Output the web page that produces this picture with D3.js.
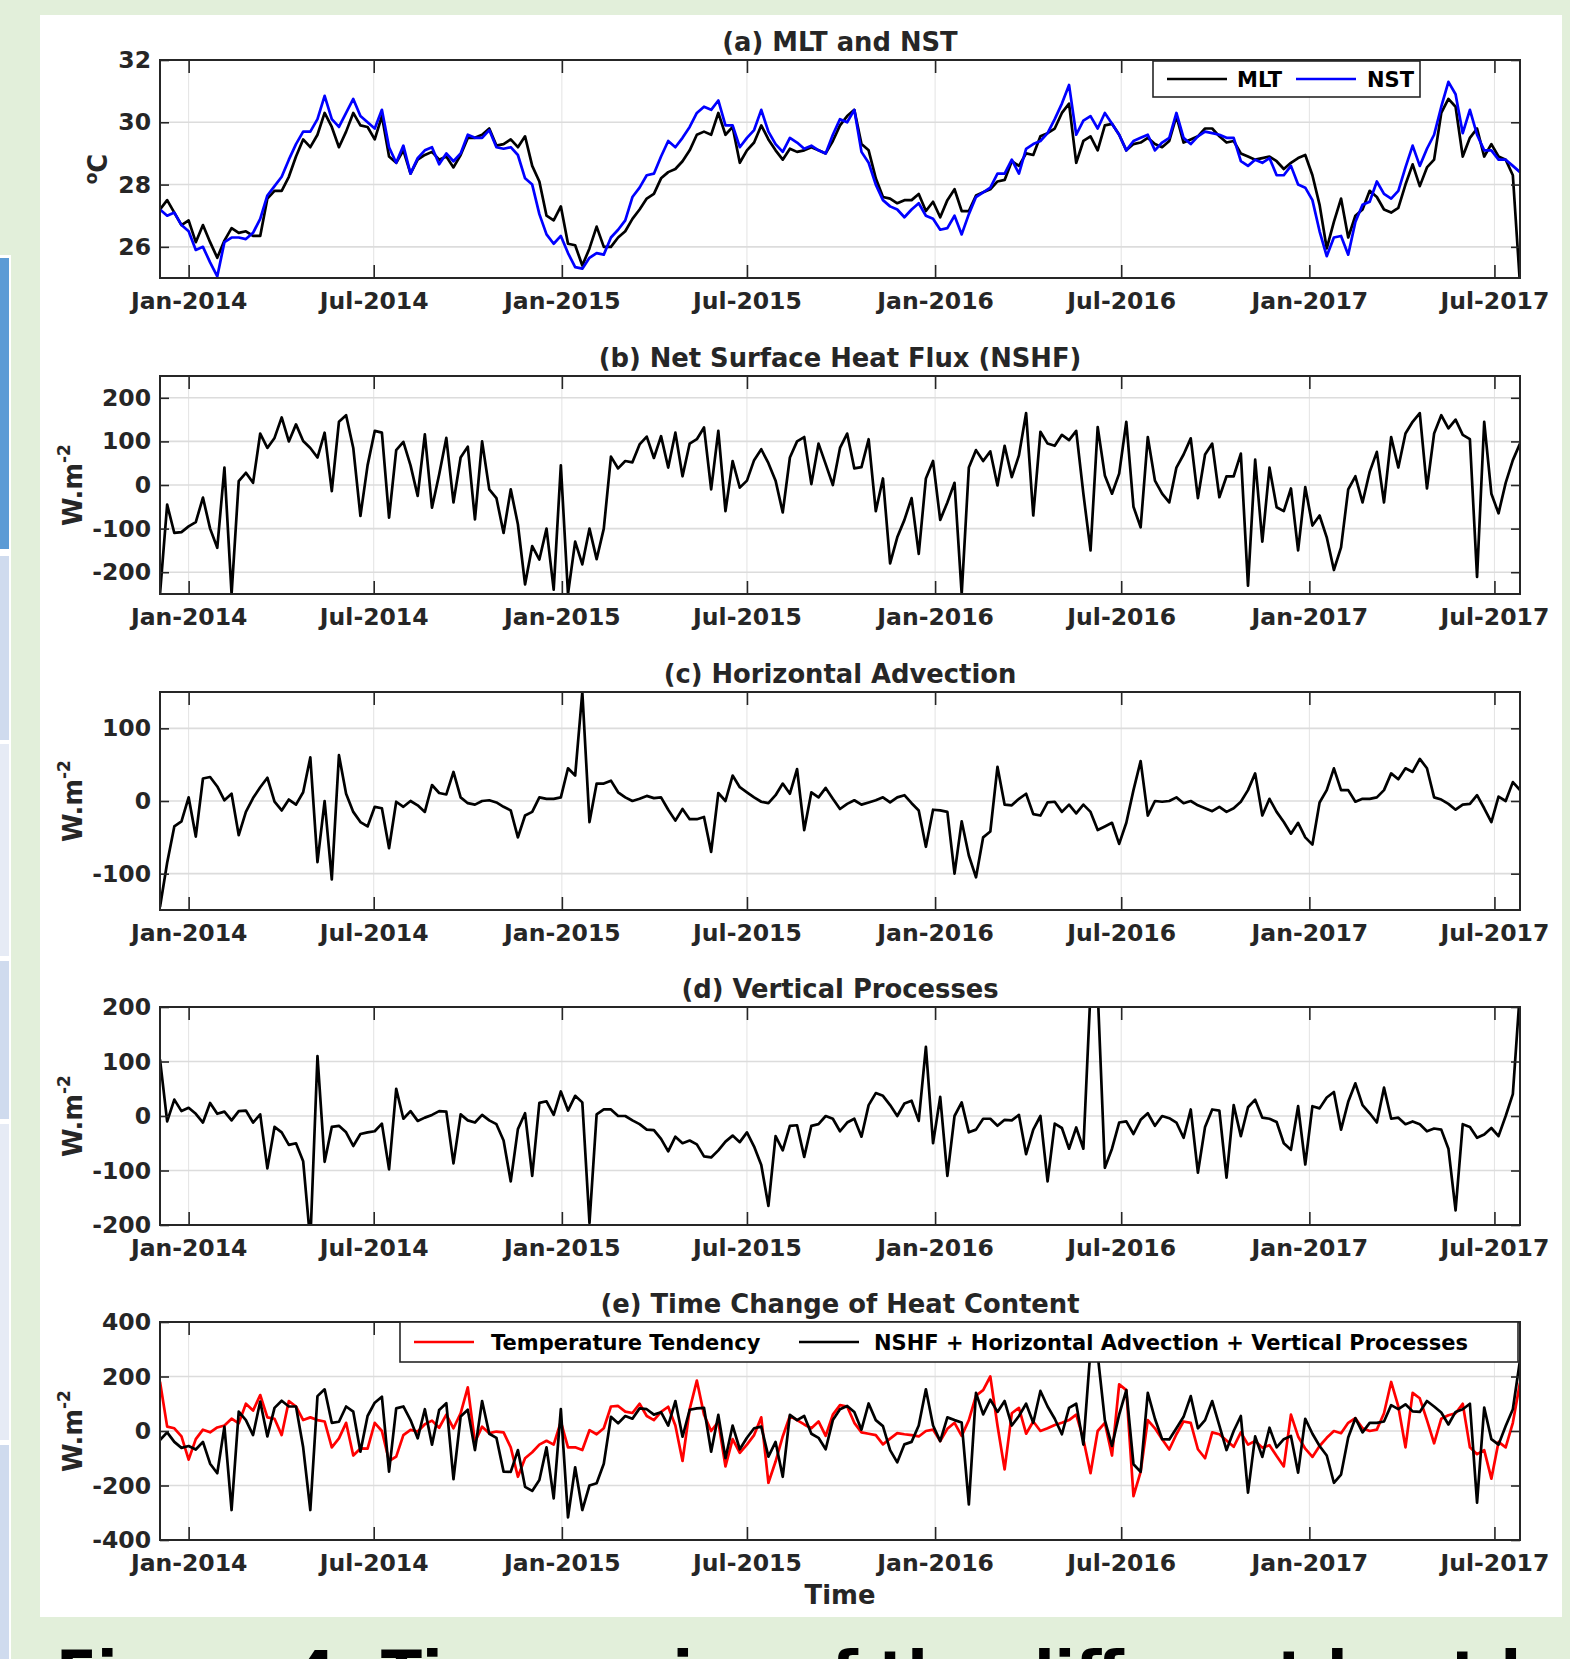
<!DOCTYPE html>
<html lang="en">
<head>
<meta charset="UTF-8">
<title>Heat budget time series</title>
<script src="https://cdn.jsdelivr.net/npm/d3@7"></script>
<style>
  body { margin: 0; background: #e2efda; }
  svg { display: block; }
  text { font-family: "DejaVu Sans", sans-serif; font-weight: bold; fill: #262626; }
</style>
</head>
<body>
<svg id="chart" width="1570" height="1659"></svg>
<script>
// weekly samples, first one on 4 Dec 2013
const startDate = new Date(2013, 11, 4);
const stepDays = 7;

const mlt = [
  27.2, 27.5, 27.1, 26.7, 26.85, 26.15, 26.7, 26.15, 25.65, 26.2,
  26.6, 26.45, 26.5, 26.35, 26.35, 27.55, 27.8, 27.8, 28.25, 28.9,
  29.45, 29.2, 29.6, 30.3, 29.85, 29.2, 29.7, 30.3, 29.9, 29.85,
  29.45, 30.2, 28.9, 28.7, 29.1, 28.35, 28.8, 28.95, 29.05, 28.8,
  28.9, 28.55, 28.95, 29.5, 29.5, 29.6, 29.8, 29.25, 29.3, 29.45,
  29.2, 29.55, 28.6, 28.1, 27.0, 26.85, 27.3, 26.1, 26.05, 25.4,
  25.95, 26.65, 26.0, 26.0, 26.3, 26.5, 26.9, 27.2, 27.55, 27.7,
  28.2, 28.4, 28.5, 28.75, 29.1, 29.6, 29.7, 29.6, 30.3, 29.6,
  29.85, 28.7, 29.1, 29.35, 29.9, 29.45, 29.1, 28.8, 29.15, 29.05,
  29.1, 29.2, 29.1, 29.0, 29.4, 29.9, 30.2, 30.4, 29.3, 29.1,
  28.2, 27.6, 27.55, 27.4, 27.5, 27.5, 27.7, 27.15, 27.45, 26.95,
  27.5, 27.85, 27.15, 27.15, 27.65, 27.75, 27.85, 28.1, 28.15, 28.75,
  28.6, 29.0, 28.95, 29.55, 29.65, 29.8, 30.3, 30.6, 28.7, 29.4,
  29.55, 29.1, 29.9, 29.95, 29.6, 29.1, 29.3, 29.35, 29.5, 29.3,
  29.2, 29.4, 30.2, 29.35, 29.45, 29.55, 29.8, 29.8, 29.55, 29.35,
  29.4, 29.0, 28.9, 28.8, 28.85, 28.9, 28.75, 28.5, 28.7, 28.85,
  28.95, 28.3, 27.35, 25.95, 26.8, 27.55, 26.3, 27.0, 27.2, 27.8,
  27.6, 27.2, 27.1, 27.25, 28.0, 28.65, 27.95, 28.55, 28.8, 30.3,
  30.75, 30.5, 28.9, 29.5, 29.8, 28.9, 29.3, 28.9, 28.8, 28.3,
  24.8
];

const nst = [
  27.2, 27.0, 27.1, 26.7, 26.5, 25.9, 26.0, 25.5, 25.05, 26.15,
  26.3, 26.3, 26.25, 26.45, 26.9, 27.65, 27.95, 28.25, 28.8, 29.3,
  29.7, 29.7, 30.1, 30.85, 30.1, 29.85, 30.3, 30.75, 30.2, 30.0,
  29.8, 30.4, 29.2, 28.7, 29.25, 28.35, 28.85, 29.1, 29.2, 28.65,
  29.0, 28.75, 29.0, 29.6, 29.5, 29.5, 29.75, 29.2, 29.15, 29.2,
  28.95, 28.2, 28.0, 27.05, 26.4, 26.1, 26.35, 25.8, 25.35, 25.3,
  25.65, 25.8, 25.75, 26.3, 26.55, 26.85, 27.6, 27.9, 28.3, 28.35,
  28.9, 29.4, 29.2, 29.5, 29.85, 30.3, 30.5, 30.4, 30.7, 29.9,
  29.9, 29.2, 29.5, 29.75, 30.4, 29.7, 29.3, 29.05, 29.5, 29.35,
  29.15, 29.25, 29.1, 29.0, 29.6, 30.1, 30.0, 30.4, 29.05, 28.7,
  28.0, 27.5, 27.3, 27.2, 26.95, 27.2, 27.4, 27.0, 26.9, 26.55,
  26.6, 27.0, 26.4, 27.05, 27.6, 27.75, 27.9, 28.35, 28.35, 28.8,
  28.35, 29.15, 29.3, 29.4, 29.65, 30.1, 30.6, 31.2, 29.6, 30.05,
  30.2, 29.8, 30.3, 29.95, 29.6, 29.1, 29.4, 29.5, 29.6, 29.1,
  29.35, 29.5, 30.3, 29.5, 29.3, 29.55, 29.7, 29.65, 29.6, 29.5,
  29.5, 28.75, 28.6, 28.8, 28.7, 28.85, 28.3, 28.3, 28.6, 28.0,
  27.9, 27.5, 26.5, 25.7, 26.3, 26.35, 25.75, 26.8, 27.35, 27.45,
  28.1, 27.7, 27.55, 27.8, 28.55, 29.25, 28.6, 29.15, 29.6, 30.5,
  31.3, 30.9, 29.65, 30.4, 29.6, 29.1, 29.1, 28.8, 28.8, 28.6,
  28.4
];

const nshf = [
  -250, -45, -110, -108, -95, -85, -29, -100, -144, 40,
  -250, 9, 28, 5, 118, 85, 108, 155, 100, 139,
  101, 85, 63, 120, -14, 145, 160, 85, -71, 45,
  124, 120, -75, 80, 99, 45, -25, 116, -52, 24,
  108, -40, 63, 88, -79, 100, -10, -30, -110, -10,
  -90, -228, -140, -171, -100, -240, 45, -250, -130, -182,
  -100, -170, -100, 65, 38, 55, 52, 93, 111, 62,
  112, 40, 120, 20, 95, 105, 132, -10, 124, -60,
  55, -6, 10, 57, 82, 50, 10, -63, 63, 100,
  110, 2, 95, 48, 0, 85, 118, 38, 41, 105,
  -60, 15, -180, -120, -80, -30, -158, 15, 55, -80,
  -40, 5, -250, 40, 80, 55, 77, -1, 90, 18,
  68, 165, -70, 122, 95, 90, 115, 103, 124, -20,
  -150, 133, 22, -20, 26, 145, -50, -97, 110, 10,
  -20, -40, 40, 70, 107, -30, 70, 95, -28, 20,
  20, 72, -231, 58, -130, 40, -51, -60, -8, -150,
  -5, -93, -70, -120, -195, -143, -10, 20, -40, 30,
  76, -40, 110, 40, 118, 145, 165, -8, 118, 160,
  130, 150, 115, 105, -211, 145, -20, -65, 5, 57,
  95
];

const horizAdvection = [
  -146, -85, -35, -28, 5, -49, 31, 33, 20, 1,
  10, -47, -15, 4, 19, 32, -1, -13, 2, -5,
  12, 60, -84, 0, -108, 63, 10, -15, -29, -35,
  -8, -10, -65, -1, -8, 0, -6, -15, 22, 11,
  9, 40, 5, -3, -5, 0, 1, -2, -8, -13,
  -50, -20, -15, 5, 3, 3, 5, 45, 35, 150,
  -29, 24, 24, 28, 12, 5, 0, 3, 7, 4,
  5, -12, -27, -11, -25, -25, -22, -70, 11, 0,
  35, 19, 12, 5, -1, -3, 8, 24, 10, 44,
  -40, 12, 5, 18, 3, -11, -4, 1, -5, -2,
  1, 5, -2, 5, 8, -3, -13, -63, -12, -13,
  -15, -100, -28, -75, -105, -50, -42, 47, -5, -6,
  3, 10, -18, -20, -2, -1, -15, -5, -17, -5,
  -15, -40, -35, -30, -59, -30, 15, 55, -20, 0,
  -1, 0, 5, -3, 0, -6, -10, -14, -8, -15,
  -10, -1, 15, 38, -20, 3, -15, -29, -45, -30,
  -50, -60, -2, 15, 45, 15, 15, -1, 3, 3,
  5, 15, 38, 30, 45, 40, 58, 45, 5, 2,
  -4, -12, -5, -4, 8, -10, -29, 6, 0, 26,
  15
];

const vertProcesses = [
  104, -10, 30, 9, 15, 4, -12, 24, 4, 8,
  -8, 9, 10, -12, 3, -96, -20, -30, -53, -50,
  -83, -230, 110, -84, -20, -18, -30, -55, -33, -30,
  -28, -14, -98, 50, -5, 9, -9, -3, 2, 9,
  8, -87, 3, -8, -12, 2, -8, -15, -45, -120,
  -24, 5, -110, 24, 27, 2, 45, 10, 37, 25,
  -196, 3, 12, 12, 0, 0, -8, -15, -25, -26,
  -42, -65, -38, -50, -45, -52, -74, -76, -63, -47,
  -36, -48, -30, -56, -90, -165, -37, -63, -18, -17,
  -75, -18, -15, 0, -5, -28, -12, -5, -38, 20,
  42, 37, 20, 0, 23, 28, -9, 127, -50, 35,
  -110, 0, 25, -30, -25, -5, -5, -18, -7, -8,
  2, -70, -25, 0, -120, -14, -22, -60, -21, -60,
  230, 230, -95, -60, -12, -10, -33, -7, 5, -18,
  0, -4, -12, -40, 12, -104, -20, 12, 10, -113,
  20, -37, 16, 30, -3, -5, -11, -50, -62, 18,
  -89, 18, 14, 34, 44, -25, 26, 60, 20, 5,
  -12, 52, -5, -3, -15, -10, -15, -28, -23, -25,
  -60, -173, -15, -20, -40, -34, -22, -37, 0, 40,
  230
];

const tempTendency = [
  181, 16, 10, -20, -105, -30, 5, -5, 13, 20,
  45, 28, 100, 75, 132, 50, 45, -15, 110, 90,
  40, 50, 40, 35, -60, -27, 30, -90, -64, -65,
  30, 0, -110, -94, -15, 4, -2, 25, 38, 12,
  60, 10, 65, 160, -40, 16, -8, -2, -5, -60,
  -168, -100, -78, -50, -36, -50, 34, -60, -60, -70,
  3, -12, 10, 90, 92, 71, 66, 100, 55, 40,
  70, 89, 20, -110, 80, 185, 60, 0, 34, -130,
  -30, -80, -50, -15, 50, -190, -112, -20, 55, 40,
  24, 10, 35, -18, 60, 95, 90, 30, -5, -10,
  -15, -49, -28, -8, -12, -15, -20, 0, 5, -37,
  8, 30, -18, 40, 130, 150, 200, 20, -141, 65,
  85, -10, 35, 0, 10, 22, 30, 40, 60, -30,
  -155, 0, 30, -90, 171, 150, -239, -150, 40, 10,
  -30, -68, -12, 35, 30, -67, -100, -5, -12, -35,
  -58, -5, -50, -37, -61, -52, -92, -130, 60, -20,
  -65, -95, -55, -25, 0, -8, 30, 47, 10, 0,
  5, 65, 180, 90, -60, 140, 120, 40, -45, 45,
  58, 65, 100, -60, -85, -70, -175, -40, -60, 30,
  177
];

const budgetSum = [
  -33, -5, -40, -62, -55, -68, -40, -120, -155, 16,
  -290, 71, 40, -15, 108, -20, 85, 111, 90, 90,
  -60, -290, 128, 153, 30, 34, 90, 71, -76, 55,
  104, 126, -149, 83, 90, 40, -27, 80, -50, 77,
  102, -177, 53, 78, -70, 110, -10, -25, -149, -150,
  -70, -205, -220, -180, -60, -247, 80, -317, -133, -290,
  -200, -192, -120, 52, 28, 55, 45, 83, 80, 60,
  69, 20, 110, -21, 78, 83, 85, -76, 59, -100,
  20, -67, -25, 10, 16, -94, -40, -168, 59, 40,
  55, -10, -25, -67, 40, 80, 92, 70, 5, 101,
  40, 18, -70, -115, -49, -40, 20, 153, 20, -37,
  50, 40, 31, -269, 140, 61, 115, 70, 110, 20,
  55, 100, 30, 147, 90, 45, -12, 85, 100, -50,
  300, 280, 40, -55, 60, 150, -122, -150, 140, 45,
  -30, -31, 10, 52, 128, 10, 40, 110, 20, -70,
  0, 55, -226, -20, -95, 12, -60, -30, -18, -153,
  45, -10, -55, -90, -190, -160, -24, 47, -5, 30,
  30, 35, 95, 80, 98, 72, 70, 110, 90, 68,
  24, 70, 80, 100, -263, 86, -30, -50, 18, 80,
  260
];

const tickDates = ["2014-01-01", "2014-07-01", "2015-01-01", "2015-07-01",
                   "2016-01-01", "2016-07-01", "2017-01-01", "2017-07-01"];

const titles = ["(a) MLT and NST", "(b) Net Surface Heat Flux (NSHF)", "(c) Horizontal Advection",
                "(d) Vertical Processes", "(e) Time Change of Heat Content"];
const yDomains = [[25, 32], [-250, 250], [-150, 150], [-200, 200], [-400, 400]];
const yTicks = [[26, 28, 30, 32], [-200, -100, 0, 100, 200], [-100, 0, 100],
                [-200, -100, 0, 100, 200], [-400, -200, 0, 200, 400]];

const svg = d3.select("#chart");

// slide background bits
const side = svg.append("g");
side.append("rect").attr("x", 0).attr("y", 255).attr("width", 11).attr("height", 1404).attr("fill", "#fff");
[[258, 549, "#5b9bd5"], [556, 740, "#cfdbee"], [744, 956, "#e6ebf5"],
 [961, 1119, "#cfdbee"], [1124, 1440, "#e6ebf5"], [1445, 1659, "#cfdbee"]].forEach(s => {
  side.append("rect").attr("x", 0).attr("y", s[0]).attr("width", 9).attr("height", s[1] - s[0]).attr("fill", s[2]);
});
svg.append("rect").attr("x", 40).attr("y", 15).attr("width", 1522).attr("height", 1602).attr("fill", "#fff");
// slide caption, only the top of its letters shows at the bottom edge
svg.append("text").attr("x", 56).attr("y", 1694).attr("font-size", 60).style("fill", "#000")
  .text("Figure 4: Time series of the different heat budget");

const dates = mlt.map((_, i) => d3.timeDay.offset(startDate, i * stepDays));
const ticks = tickDates.map(d => d3.isoParse(d + "T00:00:00"));

const left = 160, right = 1520, plotH = 218;
const tops = [60, 376, 692, 1007, 1322];

const x = d3.scaleTime().domain([dates[0], dates[dates.length - 1]]).range([left, right]);

const panels = [
  { series: [[mlt, "#000000"], [nst, "#0000ff"]], ylab: "degC",
    legend: { x: 1153, y: 61, w: 267, h: 36, items: [["MLT", "#000000", 1167, 1237], ["NST", "#0000ff", 1296, 1367]] } },
  { series: [[nshf, "#000000"]], ylab: "flux" },
  { series: [[horizAdvection, "#000000"]], ylab: "flux" },
  { series: [[vertProcesses, "#000000"]], ylab: "flux" },
  { series: [[tempTendency, "#ff0000"], [budgetSum, "#000000"]], ylab: "flux",
    legend: { x: 400, y: 1322, w: 1118, h: 40,
      items: [["Temperature Tendency", "#ff0000", 414, 491],
              ["NSHF + Horizontal Advection + Vertical Processes", "#000000", 799, 874]] } }
];

panels.forEach((p, k) => {
  const top = tops[k];
  const y = d3.scaleLinear().domain(yDomains[k]).range([top + plotH, top]);
  const g = svg.append("g");

  // grid
  g.selectAll(".vg").data(ticks).enter().append("line")
    .attr("x1", d => x(d)).attr("x2", d => x(d)).attr("y1", top).attr("y2", top + plotH)
    .attr("stroke", "#e3e3e3").attr("stroke-width", 1);
  g.selectAll(".hg").data(yTicks[k]).enter().append("line")
    .attr("x1", left).attr("x2", right).attr("y1", d => y(d)).attr("y2", d => y(d))
    .attr("stroke", "#dcdcdc").attr("stroke-width", 1.6);

  const clipId = "clip" + k;
  svg.append("clipPath").attr("id", clipId).append("rect")
    .attr("x", left).attr("y", top).attr("width", right - left).attr("height", plotH);

  const line = d3.line().x((d, i) => x(dates[i])).y(d => y(d));
  p.series.forEach(s => {
    g.append("path").datum(s[0]).attr("d", line).attr("clip-path", `url(#${clipId})`)
      .attr("fill", "none").attr("stroke", s[1]).attr("stroke-width", 2.7)
      .attr("stroke-linejoin", "round");
  });

  // axes, MATLAB style ticks pointing inwards on all four sides
  const fmt = d3.timeFormat("%b-%Y");
  const axes = [
    [d3.axisBottom(x).tickValues(ticks).tickFormat(fmt).tickSizeInner(-13).tickPadding(14), 0, top + plotH],
    [d3.axisTop(x).tickValues(ticks).tickFormat("").tickSizeInner(-13), 0, top],
    [d3.axisLeft(y).tickValues(yTicks[k]).tickFormat(d => String(d)).tickSizeInner(-9).tickPadding(9), left, 0],
    [d3.axisRight(y).tickValues(yTicks[k]).tickFormat("").tickSizeInner(-9), right, 0]
  ];
  axes.forEach(a => {
    const ag = g.append("g").attr("transform", `translate(${a[1]},${a[2]})`).call(a[0].tickSizeOuter(0));
    ag.select(".domain").remove();
    ag.selectAll("line").attr("stroke", "#262626").attr("stroke-width", 1.6);
    ag.selectAll("text").attr("font-size", 23.5).attr("font-family", null).style("fill", "#262626");
  });

  g.append("rect").attr("x", left).attr("y", top).attr("width", right - left).attr("height", plotH)
    .attr("fill", "none").attr("stroke", "#262626").attr("stroke-width", 2);

  g.append("text").attr("x", (left + right) / 2).attr("y", top - 9).attr("text-anchor", "middle")
    .attr("font-size", 25.8).text(titles[k]);

  const yl = g.append("text").attr("text-anchor", "middle").attr("font-size", 25.8);
  if (p.ylab === "degC") {
    yl.attr("transform", `translate(107,${top + plotH / 2}) rotate(-90)`);
    yl.append("tspan").attr("font-size", 17).attr("dy", -10).text("o");
    yl.append("tspan").attr("dy", 10).text("C");
  } else {
    yl.attr("transform", `translate(82,${top + plotH / 2}) rotate(-90)`);
    yl.append("tspan").text("W.m");
    yl.append("tspan").attr("font-size", 17).attr("dy", -12).text("-2");
  }

  if (p.legend) {
    const L = p.legend;
    g.append("rect").attr("x", L.x).attr("y", L.y).attr("width", L.w).attr("height", L.h)
      .attr("fill", "#fff").attr("stroke", "#262626").attr("stroke-width", 1.6);
    const cy = L.y + L.h / 2;
    L.items.forEach(it => {
      g.append("line").attr("x1", it[2]).attr("x2", it[2] + 60).attr("y1", cy).attr("y2", cy)
        .attr("stroke", it[1]).attr("stroke-width", 2.7);
      g.append("text").attr("x", it[3]).attr("y", cy).attr("dy", "0.36em")
        .attr("font-size", 21).style("fill", "#000").text(it[0]);
    });
  }
});

svg.append("text").attr("x", (left + right) / 2).attr("y", 1604).attr("text-anchor", "middle")
  .attr("font-size", 25.8).text("Time");
</script>
</body>
</html>
